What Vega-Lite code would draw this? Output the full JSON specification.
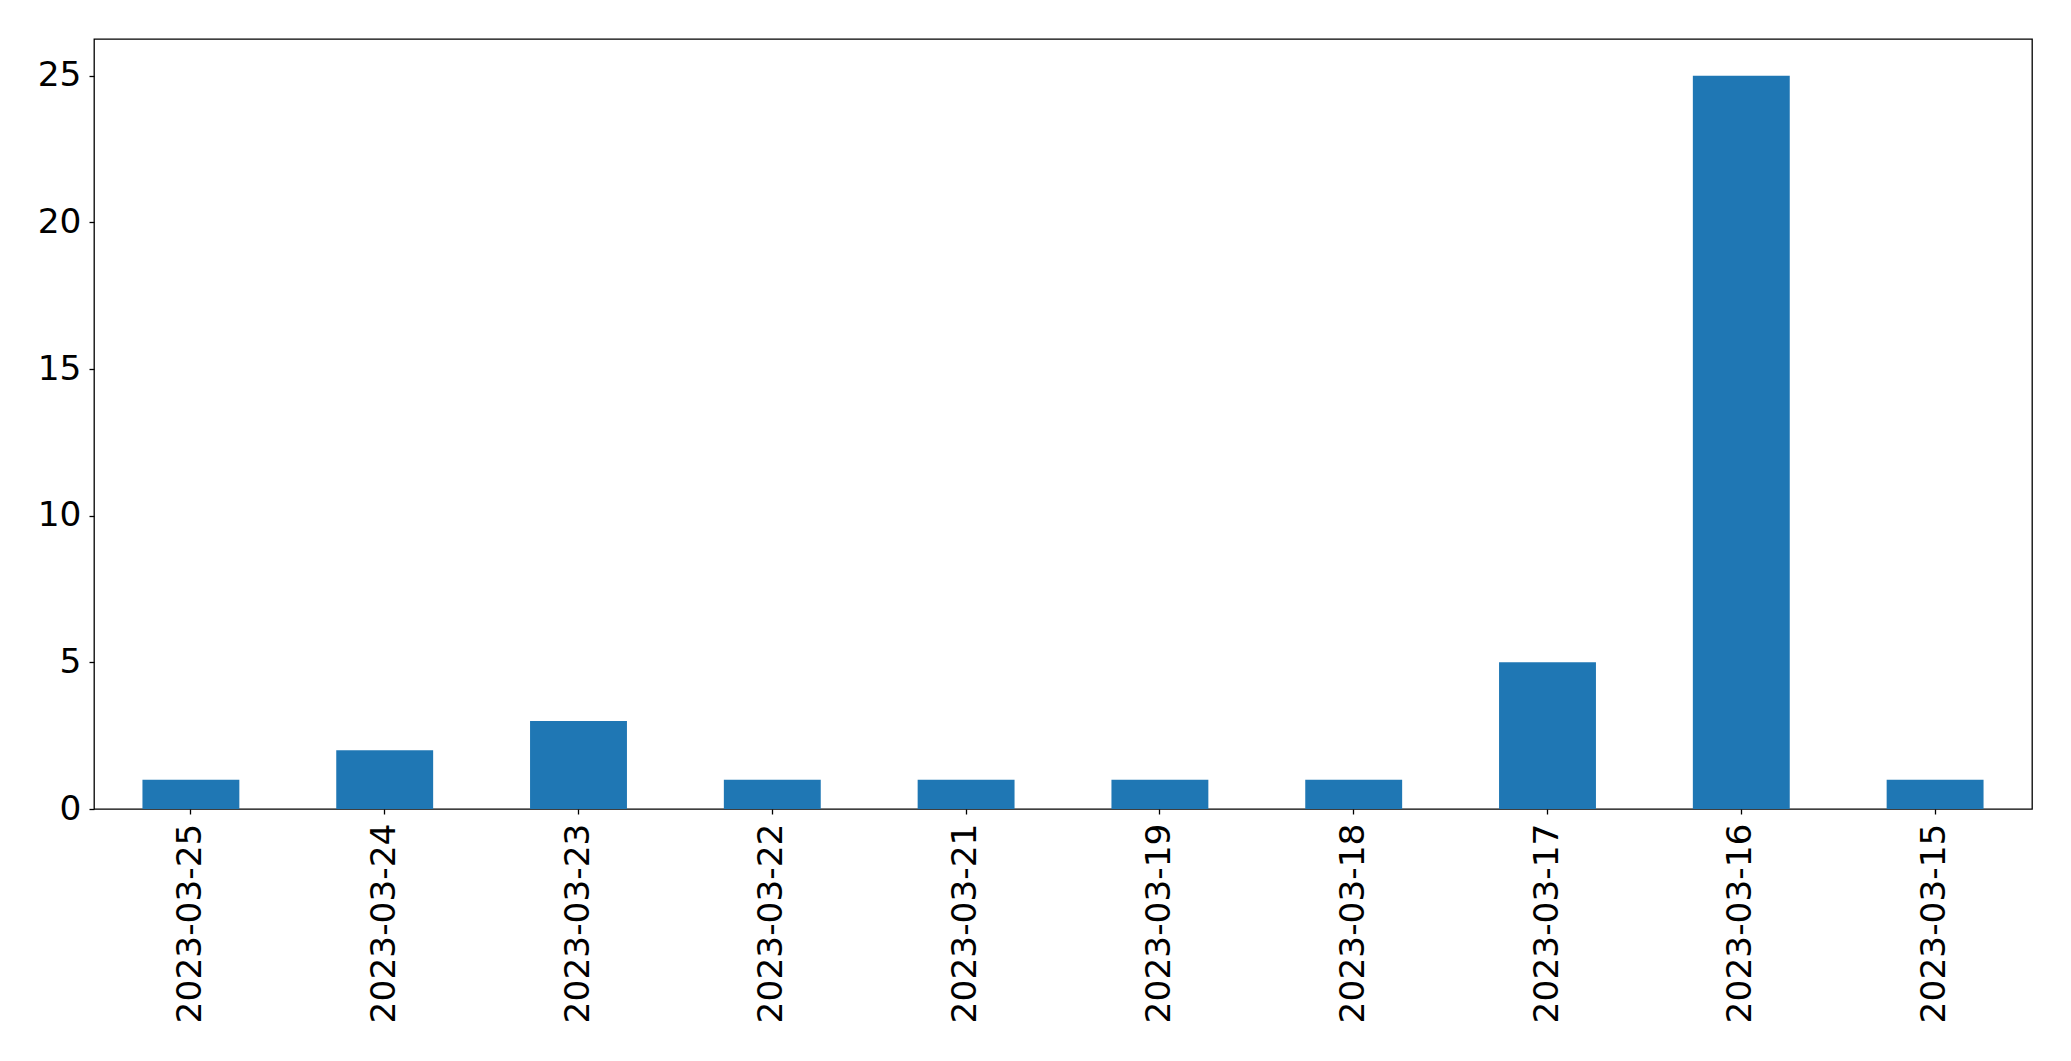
{
  "$schema": "https://vega.github.io/schema/vega-lite/v6.json",
  "autosize": {"type": "none"},
  "padding": {"left": 94, "top": 39, "right": 39, "bottom": 252},
  "width": 1938,
  "height": 770,
  "background": "white",
  "data": {"values": [
    {"date": "2023-03-25", "count": 1},
    {"date": "2023-03-24", "count": 2},
    {"date": "2023-03-23", "count": 3},
    {"date": "2023-03-22", "count": 1},
    {"date": "2023-03-21", "count": 1},
    {"date": "2023-03-19", "count": 1},
    {"date": "2023-03-18", "count": 1},
    {"date": "2023-03-17", "count": 5},
    {"date": "2023-03-16", "count": 25},
    {"date": "2023-03-15", "count": 1}
  ]},
  "mark": {"type": "bar", "color": "#1f77b4"},
  "encoding": {
    "x": {
      "field": "date", "type": "nominal", "sort": null,
      "scale": {"paddingInner": 0.5, "paddingOuter": 0.25},
      "axis": {"title": null, "labelAngle": -90, "labelLimit": 0, "domain": false, "tickColor": "#000", "tickSize": 5, "tickWidth": 1.3, "labelPadding": 9, "labelFontSize": 34.4, "labelFont": "DejaVu Sans", "labelColor": "#000"}
    },
    "y": {
      "field": "count", "type": "quantitative",
      "scale": {"domain": [0, 26.25], "nice": false, "zero": true},
      "axis": {"title": null, "values": [0, 5, 10, 15, 20, 25], "grid": false, "domain": false, "tickColor": "#000", "tickSize": 5, "tickWidth": 1.3, "labelPadding": 8, "labelFontSize": 34.4, "labelFont": "DejaVu Sans", "labelColor": "#000"}
    }
  },
  "config": {"view": {"stroke": "#000", "strokeWidth": 1.3}}
}
